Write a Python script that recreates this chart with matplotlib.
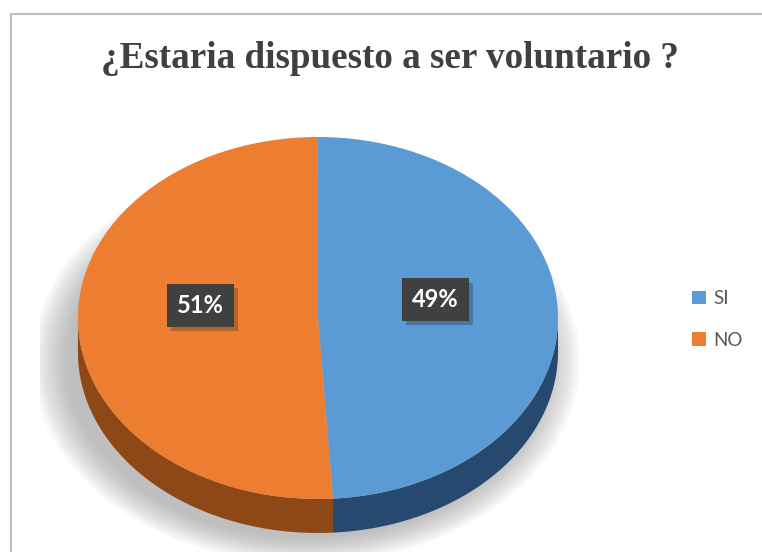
import matplotlib.pyplot as plt
import numpy as np
from matplotlib import patheffects
from matplotlib.lines import Line2D

# data
title = "¿Estaria dispuesto a ser voluntario ?"
labels = ["SI", "NO"]
values = [49, 51]
colors = ["#5B9BD5", "#ED7D31"]
side_colors = ["#28496f", "#8e4716"]

W, H = 762, 552
fig = plt.figure(figsize=(W / 100, H / 100), dpi=100)

# pie axes, squashed vertically to fake the 3D tilt
ax = fig.add_axes([40 / W, 0, 560 / W, 432 / H])
xlim = (-1.158, 1.175)
ylim = (-1.293, 1.094)
depth = 0.188

wedges, texts, autotexts = ax.pie(
    values, colors=colors, startangle=90, counterclock=False,
    autopct="%1.0f%%", pctdistance=0.49,
    wedgeprops=dict(linewidth=0),
    textprops=dict(color="white", fontsize=17, fontweight="bold", family="Lato"))
ax.set_aspect("auto")

for w in wedges:
    w.set_zorder(3)

# side wall of the disc (front half only)
for w, sc in zip(wedges, side_colors):
    for k in (-1, 0, 1):
        lo = max(w.theta1, -180 + 360 * k)
        hi = min(w.theta2, 360 * k)
        if hi <= lo:
            continue
        t = np.radians(np.linspace(lo, hi, 120))
        px = np.concatenate([np.cos(t), np.cos(t)[::-1]])
        py = np.concatenate([np.sin(t), np.sin(t)[::-1] - depth])
        ax.fill(px, py, color=sc, lw=0, zorder=2)

# soft shadow under the pie: stacked translucent ellipses
tt = np.linspace(0, 2 * np.pi, 200)
for s in np.linspace(1.12, 0.98, 16):
    ax.fill(1.02 * s * np.cos(tt) - 0.05, s * np.sin(tt) - depth - 0.05,
            color="#8c8c8c", alpha=0.045, lw=0, zorder=0.5)

ax.set_xlim(*xlim)
ax.set_ylim(*ylim)
ax.axis("off")

# data labels in dark boxes
for t in autotexts:
    x, y = t.get_position()
    t.set_position((x, y + 0.085))
    t.set_zorder(6)
    t.set_bbox(dict(boxstyle="square,pad=0.42", fc="#404040", ec="none"))
    t.get_bbox_patch().set_path_effects([
        patheffects.SimplePatchShadow(offset=(3, -3), alpha=0.25),
        patheffects.Normal()])

ax.legend(wedges, labels, loc="center left",
          bbox_to_anchor=(692 / W, (H - 319.5) / H), bbox_transform=fig.transFigure,
          frameon=False, borderpad=0, borderaxespad=0,
          handlelength=0.72, handleheight=0.72, handletextpad=0.4, labelspacing=1.3,
          prop=dict(family="Lato", size=13.5), labelcolor="#595959")

fig.text(389.5 / W, 1 - 68 / H, title, ha="center", va="baseline",
         family="Liberation Serif", weight="bold", fontsize=26.7, color="#404040")

# chart border (left and top visible)
fig.add_artist(Line2D([10.5 / W, 10.5 / W], [0, 1 - 13.5 / H], color="#c0c0c0",
                      lw=1.5, transform=fig.transFigure))
fig.add_artist(Line2D([10.5 / W, 1], [1 - 13.5 / H, 1 - 13.5 / H], color="#c0c0c0",
                      lw=1.5, transform=fig.transFigure))

fig.savefig("out.png", dpi=100)
